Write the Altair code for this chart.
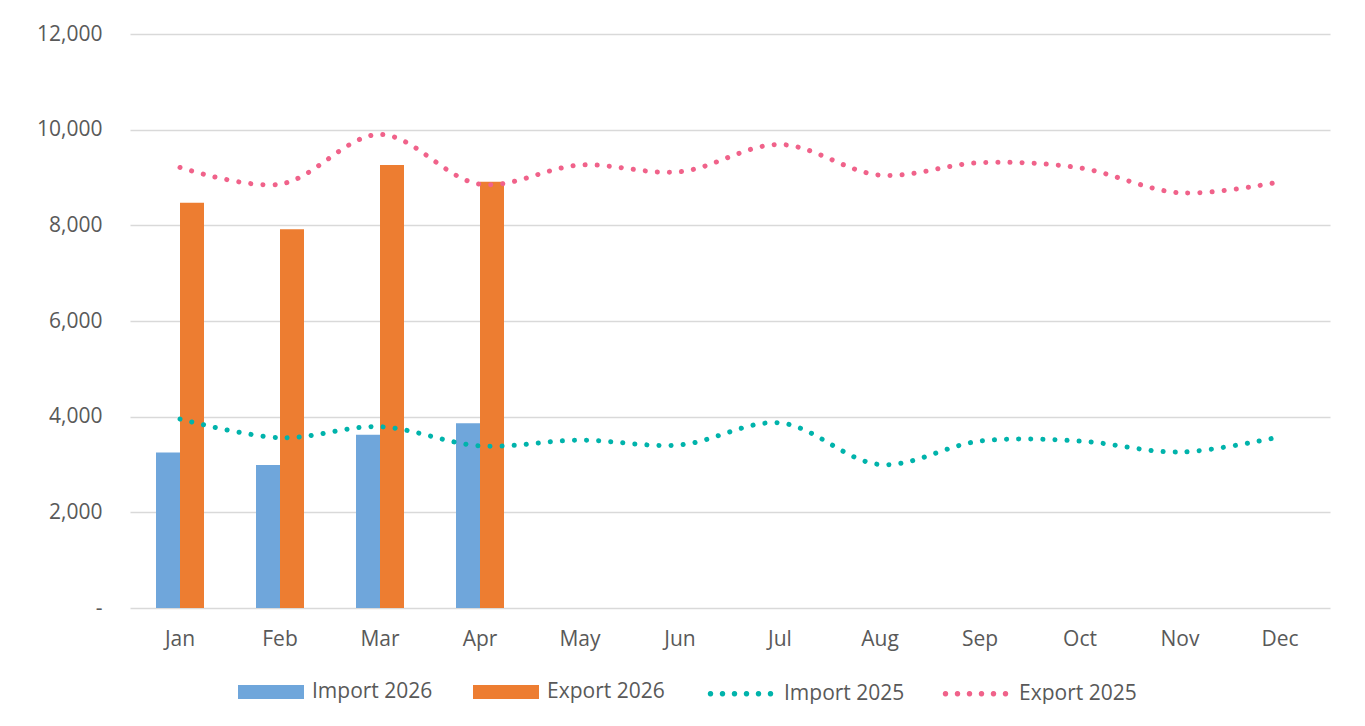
import math
import altair as alt
import pandas as pd

months = ["Jan", "Feb", "Mar", "Apr", "May", "Jun", "Jul", "Aug", "Sep", "Oct", "Nov", "Dec"]
import_2026 = [3250, 2990, 3620, 3860]
export_2026 = [8470, 7920, 9260, 8910]
import_2025 = [3950, 3560, 3790, 3390, 3510, 3410, 3870, 3000, 3490, 3490, 3260, 3580]
export_2025 = [9210, 8860, 9900, 8860, 9260, 9120, 9690, 9050, 9310, 9200, 8680, 8910]

bar_series = ["Import 2026", "Export 2026"]
line_series = ["Import 2025", "Export 2025"]
bar_colors = ["#6FA6DB", "#ED7D31"]
line_colors = ["#00B3AB", "#F0628A"]

bar_rows = []
for s, vals in zip(bar_series, [import_2026, export_2026]):
    for m, v in zip(months, vals):
        bar_rows.append({"month": m, "series": s, "value": v})
bars_df = pd.DataFrame(bar_rows)

line_rows = []
for s, vals in zip(line_series, [import_2025, export_2025]):
    for m, v in zip(months, vals):
        line_rows.append({"month": m, "series": s, "value": v})
lines_df = pd.DataFrame(line_rows)

TEXT = "#595959"
FONT = "Open Sans"
FS = 21

# legend symbol shapes (unit r = sqrt(size)/2 = 10 px)
rect_path = "M-3.3,-0.7H3.3V0.7H-3.3Z"
dot_parts = []
for cx in [-3.0, -1.8, -0.6, 0.6, 1.8, 3.0]:
    pts = []
    for k in range(12):
        a = 2 * math.pi * k / 12
        pts.append(f"{cx + 0.04 * math.cos(a):.4f},{0.04 * math.sin(a):.4f}")
    dot_parts.append("M" + "L".join(pts) + "Z")
dot_path = "".join(dot_parts)

x_enc = alt.X(
    "month:N",
    sort=months,
    scale=alt.Scale(domain=months, paddingInner=0.52, paddingOuter=0.26),
    axis=alt.Axis(
        title=None, labelAngle=0, ticks=False, domain=False, grid=False,
        labelPadding=20, labelFontSize=FS, labelColor=TEXT, labelFont=FONT,
    ),
)
y_enc = alt.Y(
    "value:Q",
    scale=alt.Scale(domain=[0, 12000], nice=False),
    axis=alt.Axis(
        title=None, values=[0, 2000, 4000, 6000, 8000, 10000, 12000],
        labelExpr="datum.value == 0 ? '-' : format(datum.value, ',')",
        grid=True, gridColor="#d9d9d9", gridWidth=1.4, domain=False, ticks=False,
        labelPadding=28, labelFontSize=FS, labelColor=TEXT, labelFont=FONT,
    ),
)

bars = alt.Chart(bars_df).mark_bar().encode(
    x=x_enc,
    y=y_enc,
    xOffset=alt.XOffset("series:N", sort=bar_series,
                        scale=alt.Scale(domain=bar_series, paddingInner=0, paddingOuter=0)),
    color=alt.Color(
        "series:N",
        scale=alt.Scale(domain=bar_series, range=bar_colors),
        legend=alt.Legend(
            title=None, orient="none", legendX=130, legendY=647, direction="horizontal",
            symbolType=rect_path, symbolSize=400, labelOffset=30, columnPadding=40,
            labelFontSize=FS, labelColor=TEXT, labelFont=FONT, labelLimit=300,
        ),
    ),
)

lines = alt.Chart(lines_df).mark_line(
    interpolate="catmull-rom", strokeWidth=5, strokeDash=[0.1, 12], strokeCap="round"
).encode(
    x=x_enc,
    y=y_enc,
    color=alt.Color(
        "series:N",
        scale=alt.Scale(domain=line_series, range=line_colors),
        legend=alt.Legend(
            title=None, orient="none", legendX=598, legendY=647, direction="horizontal",
            symbolType=dot_path, symbolSize=400, symbolStrokeWidth=4.6,
            labelOffset=31, columnPadding=30,
            labelFontSize=FS, labelColor=TEXT, labelFont=FONT, labelLimit=300,
        ),
    ),
)

chart = alt.layer(bars, lines).resolve_scale(color="independent").properties(
    width=1200, height=574,
    padding={"left": 28, "top": 15, "right": 5, "bottom": 0},
).configure_view(stroke=None)

chart.save("out.html", embed_options={"renderer": "svg", "actions": False})
